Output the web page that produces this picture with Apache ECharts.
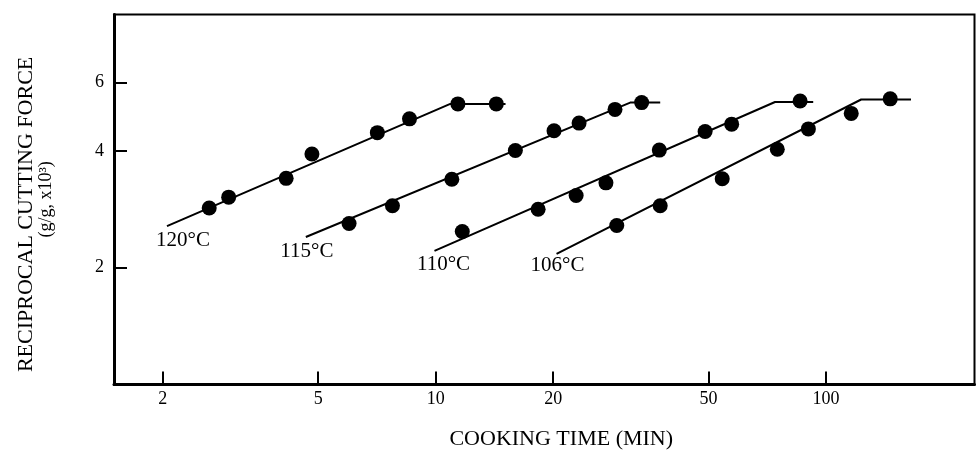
<!DOCTYPE html>
<html>
<head>
<meta charset="utf-8">
<title>Reciprocal cutting force vs cooking time</title>
<script src="https://cdn.jsdelivr.net/npm/echarts@6/dist/echarts.min.js"></script>
<style>
  html, body { margin: 0; padding: 0; background: #fff; }
  #chart { width: 976px; height: 450px; }
</style>
</head>
<body>
<div id="chart"></div>
<script>
// tick labels
var timeTicks = [2, 5, 10, 20, 50, 100];
var forceTicks = [2, 4, 6];
var temps = ['120°C', '115°C', '110°C', '106°C'];

// measured points (cooking time, min / reciprocal cutting force)
var time120 = [2.63, 2.95, 4.14, 4.82, 7.09, 8.57, 11.4, 14.3];
var force120 = [2.85, 3.04, 3.40, 3.93, 4.46, 4.84, 5.29, 5.29];
var time115 = [6.00, 7.75, 11.0, 16.0, 20.1, 23.3, 28.8, 33.7];
var force115 = [2.60, 2.89, 3.38, 4.01, 4.51, 4.72, 5.12, 5.33];
var time110 = [11.7, 18.3, 22.9, 27.3, 37.4, 49.0, 57.3, 85.8];
var force110 = [2.48, 2.83, 3.07, 3.31, 4.02, 4.49, 4.69, 5.38];
var time106 = [29.1, 37.6, 54.2, 75.0, 90.1, 116, 146];
var force106 = [2.57, 2.89, 3.39, 4.04, 4.56, 5.00, 5.45];

// fitted lines: start, break, end of plateau
var fitTime120 = [2.05, 10.9, 15.1];
var fitForce120 = [2.56, 5.29, 5.29];
var fitTime115 = [4.65, 31.5, 37.6];
var fitForce115 = [2.40, 5.33, 5.33];
var fitTime110 = [9.93, 74.0, 92.7];
var fitForce110 = [2.21, 5.35, 5.35];
var fitTime106 = [20.4, 123, 165];
var fitForce106 = [2.17, 5.43, 5.43];

var serif = "'Liberation Serif', 'Times New Roman', serif";

function pairs(xs, ys){
	var ret = [];
	for (var i = 0; i < xs.length; i++) {
		ret.push([xs[i], ys[i]]);
	}
	return ret;
}

// label offsets next to the start of each line
var labelOffsets = [[16, 0], [1, 0], [9, -1], [1, -3]];

function fitSeries(name, xs, ys, k){
	var d = pairs(xs, ys);
	d[0] = {
		value: d[0],
		label: {
			show: true,
			formatter: name,
			position: 'bottom',
			distance: 4,
			offset: labelOffsets[k],
			fontFamily: serif,
			fontSize: 21,
			color: '#000'
		}
	};
	return {
		name: name + ' fit',
		type: 'line',
		data: d,
		symbol: 'circle',
		symbolSize: 0,
		showSymbol: true,
		silent: true,
		itemStyle: { color: '#000' },
		lineStyle: { color: '#000', width: 2 },
		z: 2
	};
}

function pointSeries(name, xs, ys){
	return {
		name: name,
		type: 'scatter',
		data: pairs(xs, ys),
		symbol: 'circle',
		symbolSize: 15,
		itemStyle: { color: '#000', opacity: 1 },
		z: 3
	};
}

var myChart = echarts.init(document.getElementById('chart'), null, { renderer: 'canvas' });
var option = {
	animation: false,
	backgroundColor: '#fff',
	grid: {
		left: 114, right: 1.5, top: 14.4, bottom: 65.6,
		outerBoundsMode: 'none',
		containLabel: false,
		show: true,
		borderColor: '#000',
		borderWidth: 2
	},
	xAxis: {
		type: 'log',
		logBase: 10,
		min: 1.5,
		max: 240,
		name: 'COOKING TIME (MIN)',
		nameLocation: 'middle',
		nameGap: 44,
		nameTextStyle: { fontFamily: serif, fontSize: 22, color: '#000', padding: [0, 0, 0, 34] },
		axisLine: { show: true, lineStyle: { color: '#000', width: 3 } },
		axisTick: { show: true, inside: true, length: 13, customValues: timeTicks, lineStyle: { color: '#000', width: 2 } },
		axisLabel: { customValues: timeTicks, margin: 6, fontFamily: serif, fontSize: 18, color: '#000',
			formatter: function (v) { return String(v); } },
		minorTick: { show: false },
		splitLine: { show: false }
	},
	yAxis: {
		type: 'log',
		logBase: 10,
		min: 1,
		max: 9,
		name: '{a|RECIPROCAL CUTTING FORCE}\n{b|(g/g, x10³)}',
		nameLocation: 'middle',
		nameRotate: 90,
		nameGap: 58,
		nameTextStyle: {
			color: '#000',
			rich: {
				a: { fontFamily: serif, fontSize: 22, lineHeight: 20, color: '#000', padding: [0, 30, 0, 0] },
				b: { fontFamily: serif, fontSize: 18, lineHeight: 20, color: '#000' }
			}
		},
		axisLine: { show: true, lineStyle: { color: '#000', width: 3 } },
		axisTick: { show: true, inside: true, length: 13, customValues: forceTicks, lineStyle: { color: '#000', width: 2 } },
		axisLabel: { customValues: forceTicks, margin: 10, fontFamily: serif, fontSize: 18, color: '#000',
			formatter: function (v) { return String(v); } },
		minorTick: { show: false },
		splitLine: { show: false }
	},
	series: [
		fitSeries(temps[0], fitTime120, fitForce120, 0),
		fitSeries(temps[1], fitTime115, fitForce115, 1),
		fitSeries(temps[2], fitTime110, fitForce110, 2),
		fitSeries(temps[3], fitTime106, fitForce106, 3),
		pointSeries(temps[0], time120, force120),
		pointSeries(temps[1], time115, force115),
		pointSeries(temps[2], time110, force110),
		pointSeries(temps[3], time106, force106)
	]
};
myChart.setOption(option);
window.addEventListener('resize', function(){
	myChart.resize();
});
</script>
</body>
</html>
